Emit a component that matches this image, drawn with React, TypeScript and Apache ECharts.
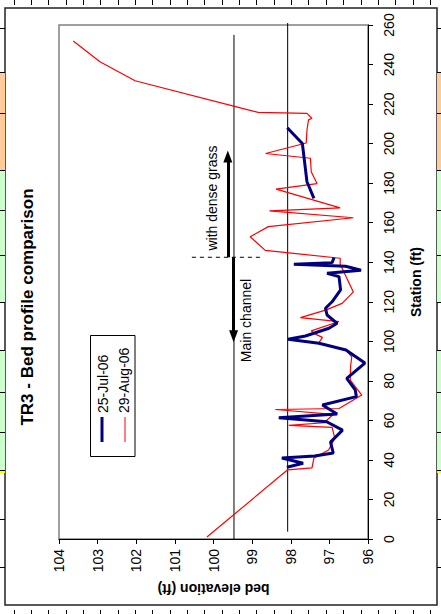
import React, { useEffect, useRef } from 'react';
import * as echarts from 'echarts';

// ---- data ----
const julStations = [36.3, 38.3, 41, 42, 43.5, 49, 55.1, 59.3, 61.3, 63.2, 67.8, 72, 75.4, 81.3, 89, 95.6, 99, 101, 102.7, 106.6, 109.1, 113.3, 116.7, 120, 126, 132.7, 134.4, 136, 138, 139, 139.8, 142.3, null, 172.3, 180.7, 200.1, 208];
const julElev = [98.1, 97.68, 98.23, 97.38, 96.9, 96.97, 96.66, 97.07, 98.31, 96.8, 97.18, 96.3, 96.33, 96.55, 96.08, 96.57, 97.27, 98.07, 97.62, 97.01, 96.8, 97.06, 97.1, 96.93, 96.71, 96.75, 97.06, 96.18, 96.58, 97.92, 96.93, 96.88, null, 97.4, 97.58, 97.7, 98.09];

const augStations = [1, 35, 36, 41, 45, 51, 56.5, 57.5, 58.8, 63, 65.5, 66, 72.8, 80.4, 87.5, 92.2, 96, 99, 102, 103.5, 105.3, 110, 112, 115.8, 119.2, 125, 134, 139, 142, 146, 152.9, 158, 162.5, 166, 167.5, 177, 179.8, 185.8, 192.6, 195, 200.3, 207, 212, 212.8, 214.5, 215.3, 215.8, 219, 231.8, 241.4, 251.9];
const augElev = [100.17, 98.08, 97.45, 97.4, 97.02, 96.86, 96.93, 98.05, 97.14, 96.9, 98.4, 96.75, 96.16, 96.46, 96.45, 96.42, 96.6, 97.28, 97.18, 97.35, 97.47, 96.75, 97.75, 97.1, 96.67, 96.38, 96.6, 96.72, 96.72, 98.66, 99.05, 98.58, 96.38, 98.55, 96.72, 98.38, 97.32, 97.47, 97.49, 98.65, 97.6, 97.58, 97.54, 97.45, 97.54, 97.58, 98.84, 99.48, 102.03, 102.94, 103.63];

const seriesNames = ['25-Jul-06', '29-Aug-06'];

// reference lines: [elev, stationStart, stationEnd]
const refLineA = [98.08, 3.7, 261];
const refLineB = [99.47, 0, 255];
// dashed boundary: [station, elevStart, elevEnd]
const boundary = [142.5, 100.56, 98.71];
// arrows: [elev, stationFrom, stationTo]
const arrowGrass = [99.63, 142.5, 193.5];
const arrowChannel = [99.48, 142.5, 102.5];

const titleText = 'TR3 - Bed profile comparison';
const stationName = 'Station (ft)';
const elevName = 'bed elevation (ft)';
const grassText = 'with dense grass';
const channelText = 'Main channel';

const FONT = '"Liberation Sans", Arial, sans-serif';

function pairs(st: (number | null)[], el: (number | null)[]) {
  return st.map((s, i) => (s == null || el[i] == null ? ['-', '-'] : [el[i], s]));
}

function buildSheetGraphics() {
  const g: any[] = [];
  const bands = [
    { y0: 72, y1: 170, c: '#FFCC99' },
    { y0: 170, y1: 302, c: '#CCFFCC' },
    { y0: 350, y1: 470, c: '#CCFFCC' },
    { y0: 470, y1: 473, c: '#FFFF00' },
  ];
  bands.forEach((b) => {
    g.push({ type: 'rect', shape: { x: 0, y: b.y0, width: 5, height: b.y1 - b.y0 }, style: { fill: b.c }, z: 0, silent: true });
    g.push({ type: 'rect', shape: { x: 437, y: b.y0, width: 4, height: b.y1 - b.y0 }, style: { fill: b.c }, z: 0, silent: true });
  });
  const rows = [28, 72, 113, 170, 210, 255, 302, 350, 392, 432, 470, 519, 567];
  rows.forEach((y) => {
    g.push({ type: 'line', shape: { x1: 0, y1: y + 0.5, x2: 5, y2: y + 0.5 }, style: { stroke: '#000', lineWidth: 1 }, z: 1, silent: true });
    g.push({ type: 'line', shape: { x1: 437, y1: y + 0.5, x2: 441, y2: y + 0.5 }, style: { stroke: '#000', lineWidth: 1 }, z: 1, silent: true });
  });
  for (let k = 0; k < 26; k++) {
    const x = Math.round(13.5 + 17.35 * k) + 0.5;
    g.push({ type: 'line', shape: { x1: x, y1: 0, x2: x, y2: 5 }, style: { stroke: '#000', lineWidth: 1 }, z: 1, silent: true });
    g.push({ type: 'line', shape: { x1: x, y1: 610, x2: x, y2: 614 }, style: { stroke: '#000', lineWidth: 1 }, z: 1, silent: true });
  }
  // chart frame
  g.push({ type: 'rect', shape: { x: 5, y: 8, width: 432, height: 597 }, style: { fill: '#fff', stroke: '#222', lineWidth: 1.5 }, z: -10, silent: true });
  return g;
}

function buildAnnotations() {
  const g: any[] = [];
  g.push({
    type: 'text', x: 27, y: 307, rotation: Math.PI / 2, silent: true, z: 10,
    style: { text: titleText, fontFamily: FONT, fontSize: 17, fontWeight: 'bold', fill: '#000', align: 'center', verticalAlign: 'middle' },
  });
  g.push({
    type: 'text', x: 212, y: 198, rotation: Math.PI / 2, silent: true, z: 10,
    style: { text: grassText, fontFamily: FONT, fontSize: 14, fill: '#000', align: 'center', verticalAlign: 'middle' },
  });
  g.push({
    type: 'text', x: 245.5, y: 320.5, rotation: Math.PI / 2, silent: true, z: 10,
    style: { text: channelText, fontFamily: FONT, fontSize: 14, fill: '#000', align: 'center', verticalAlign: 'middle' },
  });
  // legend
  g.push({ type: 'rect', shape: { x: 90.5, y: 335.5, width: 44.5, height: 121 }, style: { fill: '#fff', stroke: '#000', lineWidth: 1 }, z: 10, silent: true });
  g.push({ type: 'line', shape: { x1: 102, y1: 417, x2: 102, y2: 442 }, style: { stroke: '#000080', lineWidth: 3 }, z: 11, silent: true });
  g.push({ type: 'line', shape: { x1: 125, y1: 417, x2: 125, y2: 442 }, style: { stroke: '#FF0000', lineWidth: 1 }, z: 11, silent: true });
  g.push({
    type: 'text', x: 102.5, y: 413, rotation: Math.PI / 2, silent: true, z: 11,
    style: { text: seriesNames[0], fontFamily: FONT, fontSize: 14, fill: '#000', align: 'left', verticalAlign: 'middle' },
  });
  g.push({
    type: 'text', x: 124, y: 413, rotation: Math.PI / 2, silent: true, z: 11,
    style: { text: seriesNames[1], fontFamily: FONT, fontSize: 14, fill: '#000', align: 'left', verticalAlign: 'middle' },
  });
  return g;
}

export default function App() {
  const ref = useRef<HTMLDivElement>(null);
  useEffect(() => {
    if (!ref.current) return;
    const chart = echarts.init(ref.current, undefined, { renderer: 'svg' });
    const option: any = {
      animation: false,
      backgroundColor: '#ffffff',
      textStyle: { fontFamily: FONT },
      grid: {
        left: 59, top: 25, width: 309, height: 514,
        show: true, borderColor: '#808080', borderWidth: 1.5, backgroundColor: 'transparent',
        outerBoundsMode: 'none', containLabel: false,
      },
      xAxis: {
        type: 'value', min: 96, max: 104, interval: 1, inverse: true, position: 'bottom',
        axisLine: { show: true, lineStyle: { color: '#000', width: 1 } },
        axisTick: { show: true, length: 5, lineStyle: { color: '#000' } },
        splitLine: { show: false },
        axisLabel: { rotate: 90, margin: 10, fontSize: 14, color: '#000', fontFamily: FONT },
        name: elevName, nameLocation: 'middle', nameRotate: 180, nameGap: 43,
        nameTextStyle: { fontSize: 14, fontWeight: 'bold', color: '#000', fontFamily: FONT },
      },
      yAxis: {
        type: 'value', min: 0, max: 260, interval: 20, position: 'right',
        axisLine: { show: true, lineStyle: { color: '#000', width: 1 } },
        axisTick: { show: true, length: 5, lineStyle: { color: '#000' } },
        splitLine: { show: false },
        axisLabel: { rotate: 90, margin: 14, fontSize: 14, color: '#000', fontFamily: FONT },
        name: stationName, nameLocation: 'middle', nameGap: 41,
        nameTextStyle: { fontSize: 14, fontWeight: 'bold', color: '#000', fontFamily: FONT },
      },
      graphic: { elements: [...buildSheetGraphics(), ...buildAnnotations()] },
      series: [
        {
          name: 'refA', type: 'line', showSymbol: false, silent: true, clip: false,
          lineStyle: { color: '#000', width: 1 },
          data: [[refLineA[0], refLineA[1]], [refLineA[0], refLineA[2]]],
          z: 1,
        },
        {
          name: 'refB', type: 'line', showSymbol: false, silent: true,
          lineStyle: { color: '#000', width: 1 },
          data: [[refLineB[0], refLineB[1]], [refLineB[0], refLineB[2]]],
          z: 1,
          markLine: {
            silent: true, animation: false,
            symbol: ['none', 'triangle'], symbolSize: [9, 12],
            label: { show: false },
            lineStyle: { color: '#000', width: 3, type: 'solid' },
            itemStyle: { color: '#000' },
            emphasis: { disabled: true },
            data: [
              [{ coord: [arrowGrass[0], arrowGrass[1]] }, { coord: [arrowGrass[0], arrowGrass[2]] }],
              [{ coord: [arrowChannel[0], arrowChannel[1]] }, { coord: [arrowChannel[0], arrowChannel[2]] }],
            ],
          },
        },
        {
          name: 'boundary', type: 'line', showSymbol: false, silent: true,
          lineStyle: { color: '#000', width: 1, type: [4, 4] },
          data: [[boundary[1], boundary[0]], [boundary[2], boundary[0]]],
          z: 1,
        },
        {
          name: seriesNames[1], type: 'line', showSymbol: false, connectNulls: false,
          lineStyle: { color: '#FF0000', width: 1.2 },
          data: pairs(augStations, augElev),
          z: 3,
        },
        {
          name: seriesNames[0], type: 'line', showSymbol: false, connectNulls: false,
          lineStyle: { color: '#000080', width: 3 },
          data: pairs(julStations, julElev),
          z: 4,
        },
      ],
    };
    chart.setOption(option);
    return () => chart.dispose();
  }, []);
  return <div ref={ref} style={{ position: 'fixed', left: 0, top: 0, width: 441, height: 614 }} />;
}
